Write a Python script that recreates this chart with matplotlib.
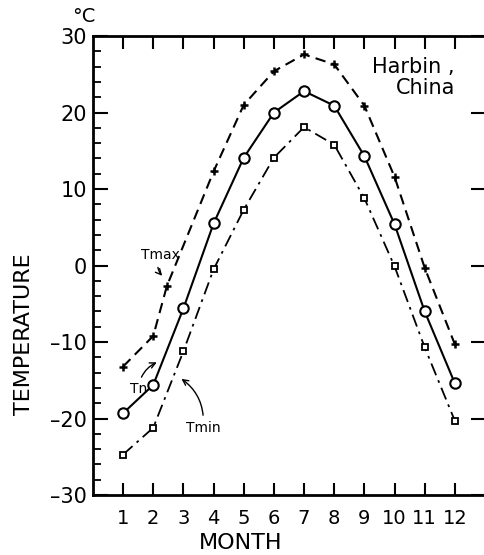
import numpy as np
import matplotlib
matplotlib.use("Agg")
import matplotlib.pyplot as plt

# monthly temperatures (deg C)
months = [1, 2, 3, 4, 5, 6, 7, 8, 9, 10, 11, 12]
tmax_months = [1, 2, 2.45, 4, 5, 6, 7, 8, 9, 10, 11, 12]
tmax = [-13.2, -9.2, -2.7, 12.3, 21.0, 25.4, 27.6, 26.3, 20.9, 11.6, -0.3, -10.3]
tn = [-19.3, -15.6, -5.6, 5.5, 14.1, 20.0, 22.8, 20.9, 14.3, 5.4, -6.0, -15.4]
tmin = [-24.7, -21.2, -11.2, -0.5, 7.3, 14.1, 18.1, 15.8, 8.8, -0.1, -10.7, -20.3]
yticks = [-30, -20, -10, 0, 10, 20, 30]
ylabels = ['\u201330', '\u201320', '\u201310', '0', '10', '20', '30']

plt.rcParams['font.family'] = 'DejaVu Sans'

fig = plt.figure(figsize=(4.84, 5.55), dpi=100)
ax = fig.add_axes([0.192, 0.108, 0.812, 0.827])

ax.plot(tmax_months, tmax, color='black', lw=1.5, ls=(0, (5, 3)),
        marker='+', ms=6, mew=1.8)
ax.plot(months, tn, color='black', lw=1.5, ls='-',
        marker='o', ms=7.5, mfc='white', mew=1.5)
ax.plot(months, tmin, color='black', lw=1.3, ls=(0, (7, 3, 1.5, 3)),
        marker='s', ms=4.5, mfc='white', mew=1.3)

ax.set_xlim(0, 13.03)
ax.set_ylim(-30, 30)
ax.set_xticks(months)
ax.set_yticks(yticks)
ax.set_yticklabels(ylabels)
ax.set_yticks(np.arange(-28, 30, 2), minor=True)

ax.tick_params(axis='x', direction='in', length=9, width=1.5, top=True,
               labelsize=14, pad=10)
ax.tick_params(axis='y', which='major', direction='in', length=11, width=1.5,
               right=True, labelsize=15, pad=4)
ax.tick_params(axis='y', which='minor', direction='in', length=6, width=1.3,
               right=False)
for s in ax.spines.values():
    s.set_linewidth(2)

ax.set_xlabel('MONTH', fontsize=16)
ax.xaxis.set_label_coords(0.375, -0.083)
ax.set_ylabel('TEMPERATURE', fontsize=16)
ax.yaxis.set_label_coords(-0.15, 0.35)
fig.text(0.148, 0.97, '\u00b0C', fontsize=14, va='center')

ax.text(12, 24.6, 'Harbin ,\nChina', ha='right', va='center', fontsize=15,
        multialignment='right', linespacing=1.1)

arrow = dict(arrowstyle='->', color='black', lw=1.0)
ax.annotate('Tmax', xy=(2.36, -1.6), xytext=(2.25, 1.4), fontsize=10,
            ha='center', va='center',
            arrowprops=dict(arrow, connectionstyle='arc3,rad=0.4'))
ax.annotate('Tn', xy=(2.2, -12.5), xytext=(1.5, -16.2), fontsize=10,
            ha='center', va='center',
            arrowprops=dict(arrow, connectionstyle='arc3,rad=-0.3'))
ax.annotate('Tmin', xy=(2.86, -14.6), xytext=(3.65, -21.2), fontsize=10,
            ha='center', va='center',
            arrowprops=dict(arrow, connectionstyle='arc3,rad=0.3'))

fig.savefig('out.png', dpi=100)
